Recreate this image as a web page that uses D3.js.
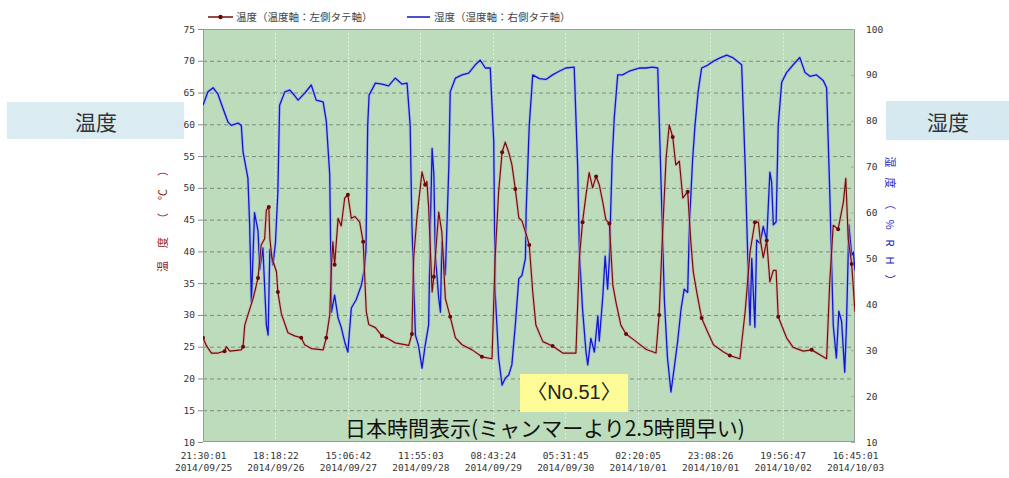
<!DOCTYPE html>
<html>
<head>
<meta charset="utf-8">
<script src="https://cdn.jsdelivr.net/npm/d3@7"></script>
<style>
  body { margin: 0; background: #fff; }
  svg { display: block; }
</style>
</head>
<body>
<svg id="chart" width="1009" height="478"></svg>
<script>
// Logger record: temperature (left axis) and humidity (right axis), Japan time
const startStamp = "2014/09/25 21:30:01";

// X axis tick labels (time / date)
const tickTimes = ["21:30:01", "18:18:22", "15:06:42", "11:55:03", "08:43:24",
                   "05:31:45", "02:20:05", "23:08:26", "19:56:47", "16:45:01"];
const tickDays  = ["2014/09/25", "2014/09/26", "2014/09/27", "2014/09/28", "2014/09/29",
                   "2014/09/30", "2014/10/01", "2014/10/01", "2014/10/02", "2014/10/03"];

// Y axis tick labels
const tempTicks = [10, 15, 20, 25, 30, 35, 40, 45, 50, 55, 60, 65, 70, 75];
const humTicks  = [10, 20, 30, 40, 50, 60, 70, 80, 90, 100];

// Temperature (°C): hours since start, value
const tempHours = [0, 0.95, 2.4, 4.3, 6.2, 6.7, 7.7, 11.0, 11.5, 12.0,
  12.9, 14.4, 15.8, 16.7, 17.7, 18.2, 18.9, 19.2, 19.8, 21.1,
  21.5, 22.5, 24.4, 26.3, 28.2, 29.2, 31.1, 34.5, 35.4, 36.4,
  36.9, 37.3, 37.8, 38.8, 39.7, 40.7, 41.6, 42.6, 43.6, 45.0,
  46.0, 46.9, 47.6, 49.5, 51.4, 53.3, 55.2, 59.1, 60.0, 60.5,
  61.5, 62.9, 63.8, 64.3, 64.8, 65.8, 66.3, 67.7, 68.6, 69.6,
  71.0, 72.5, 74.4, 77.3, 80.1, 83.0, 83.9, 84.9, 85.9, 86.8,
  87.8, 88.7, 89.7, 90.7, 91.6, 93.1, 93.7, 94.7, 95.6, 97.6,
  100.4, 103.3, 107.1, 108.1, 109.0, 110.0, 110.9, 111.9, 112.9, 113.8,
  114.8, 115.7, 116.7, 117.7, 118.6, 120.0, 121.5, 124.4, 127.2, 130.1,
  131.0, 132.0, 133.0, 133.9, 134.9, 135.8, 136.8, 137.8, 139.2, 140.1,
  140.8, 141.8, 143.2, 144.7, 146.6, 149.4, 151.3, 154.2, 155.7, 157.1,
  158.5, 159.5, 160.0, 160.9, 161.9, 162.8, 163.8, 164.6, 165.2, 167.6,
  169.5, 172.4, 174.8, 179.1, 180.0, 181.0, 182.4, 183.9, 184.6, 185.3,
  186.3, 187.25];
const tempValues = [26.4, 25.2, 24.0, 24.0, 24.3, 25.0, 24.3, 24.5, 25.0, 28.4,
  30.0, 32.6, 35.8, 41.0, 42.0, 46.5, 47.0, 42.0, 39.0, 36.8,
  33.6, 30.2, 27.2, 26.7, 26.4, 25.3, 24.7, 24.5, 26.4, 30.0,
  37.9, 41.5, 37.9, 45.2, 44.0, 48.4, 48.9, 45.2, 45.5, 44.6,
  41.5, 30.5, 28.5, 28.0, 26.7, 26.2, 25.6, 25.2, 27.0, 39.0,
  45.7, 52.5, 50.5, 51.0, 47.0, 33.6, 36.0, 46.2, 43.0, 32.6,
  29.7, 26.4, 25.3, 24.5, 23.4, 23.1, 39.0, 49.4, 55.6, 57.2,
  55.6, 53.7, 49.8, 45.3, 44.8, 42.2, 41.0, 33.6, 28.4, 25.8,
  25.1, 24.0, 24.0, 39.0, 44.6, 48.9, 52.4, 50.0, 51.8, 50.5,
  47.8, 45.0, 44.4, 34.7, 32.0, 28.4, 27.0, 25.8, 24.6, 24.0,
  30.0, 43.0, 54.7, 59.9, 58.0, 53.6, 54.2, 48.4, 49.4, 41.5,
  36.8, 33.6, 29.5, 27.6, 25.3, 24.2, 23.6, 23.1, 30.5, 39.9,
  44.6, 44.6, 42.0, 39.0, 41.7, 35.2, 37.0, 37.0, 29.7, 26.4,
  24.9, 24.3, 24.5, 23.1, 35.2, 44.1, 43.5, 47.7, 51.5, 42.0,
  38.0, 30.5];

// Humidity (%RH): hours since start, value
const humHours = [0, 1.4, 2.9, 4.3, 5.7, 7.2, 8.1, 10.1, 11.0, 11.5,
  12.9, 13.4, 13.9, 14.8, 15.8, 16.3, 17.2, 18.2, 18.7, 19.2,
  20.1, 20.8, 21.5, 22.0, 23.5, 24.9, 26.3, 27.3, 29.2, 31.1,
  32.5, 34.5, 35.4, 36.4, 36.9, 37.8, 38.8, 39.7, 40.7, 41.6,
  42.6, 44.0, 45.5, 46.4, 46.8, 47.3, 47.7, 49.5, 51.4, 53.3,
  55.2, 57.1, 58.6, 59.5, 60.0, 61.0, 61.9, 62.9, 63.8, 64.8,
  65.3, 65.8, 66.3, 66.7, 67.7, 68.2, 68.6, 69.6, 70.6, 71.0,
  72.5, 74.4, 76.3, 78.2, 79.6, 81.1, 82.5, 83.5, 83.9, 84.9,
  85.9, 86.8, 87.8, 88.7, 89.7, 90.7, 91.6, 92.6, 92.8, 93.7,
  94.7, 96.6, 98.5, 100.4, 102.3, 104.2, 106.6, 107.6, 108.1, 109.0,
  110.0, 110.5, 111.4, 112.4, 113.4, 113.8, 114.8, 115.5, 116.2, 116.7,
  117.5, 118.1, 119.1, 120.5, 122.4, 125.3, 127.2, 129.1, 130.6, 131.5,
  132.5, 133.4, 134.4, 135.3, 136.3, 137.3, 138.2, 139.2, 139.7, 140.6,
  141.3, 142.2, 143.2, 144.7, 146.6, 148.5, 150.4, 152.3, 154.7, 155.7,
  156.6, 157.1, 157.6, 158.5, 159.0, 160.0, 160.9, 161.9, 162.8, 163.3,
  163.8, 164.6, 165.2, 166.2, 167.6, 169.5, 171.4, 172.9, 174.3, 176.2,
  178.1, 179.1, 180.0, 181.0, 181.9, 182.6, 183.4, 184.3, 184.8, 185.5,
  186.3, 186.8, 187.25];
const humValues = [83.4, 86.3, 87.2, 85.8, 82.8, 79.7, 79.0, 79.5, 79.0, 73.2,
  67.5, 57.3, 40.5, 60.0, 56.0, 47.6, 52.3, 35.5, 33.3, 52.0,
  48.6, 53.3, 64.5, 83.4, 86.3, 86.7, 85.5, 84.5, 86.0, 87.8,
  84.5, 84.1, 80.0, 68.2, 38.3, 42.0, 37.0, 35.0, 31.8, 29.6,
  39.2, 41.0, 44.2, 48.0, 52.0, 79.0, 85.6, 88.2, 88.0, 87.6,
  89.3, 88.0, 88.2, 79.0, 57.3, 33.3, 31.0, 26.1, 31.0, 35.5,
  57.3, 74.0, 68.3, 51.0, 41.4, 38.3, 53.6, 46.4, 70.0, 86.3,
  89.3, 90.0, 90.4, 92.2, 93.2, 91.5, 91.5, 75.5, 42.7, 28.3,
  22.4, 23.9, 24.6, 26.8, 35.5, 45.6, 46.3, 50.0, 60.1, 79.0,
  90.0, 89.2, 89.0, 90.0, 90.8, 91.5, 91.7, 70.1, 51.4, 39.0,
  29.6, 26.8, 32.6, 29.6, 37.5, 32.0, 41.5, 50.5, 43.3, 49.8,
  71.4, 80.5, 90.0, 90.0, 90.8, 91.5, 91.5, 91.7, 91.5, 67.9,
  41.0, 28.3, 20.9, 26.0, 31.8, 39.0, 43.3, 42.6, 57.3, 71.4,
  79.0, 86.3, 91.5, 92.0, 93.0, 93.7, 94.3, 93.7, 92.2, 70.4,
  46.4, 35.5, 50.0, 35.0, 54.0, 53.3, 57.0, 54.0, 68.8, 66.7,
  57.3, 58.0, 79.0, 88.4, 90.5, 92.2, 93.8, 90.5, 89.7, 90.0,
  88.8, 87.2, 64.5, 35.5, 28.3, 38.5, 36.3, 25.2, 35.5, 57.3,
  50.7, 51.4, 47.4];

// ---------------------------------------------------------------
const parseStamp = d3.timeParse("%Y/%m/%d %H:%M:%S");
const start = parseStamp(startStamp);
const tickDates = tickTimes.map((t, i) => parseStamp(tickDays[i] + " " + t));
const atHour = h => new Date(start.getTime() + h * 3600 * 1000);

const tempData = tempHours.map((h, i) => ({ date: atHour(h), v: tempValues[i] }));
const humData  = humHours.map((h, i) => ({ date: atHour(h), v: humValues[i] }));

const plot = { left: 203, right: 855, top: 29, bottom: 442 };

const x  = d3.scaleTime().domain([tickDates[0], tickDates[tickDates.length - 1]])
             .range([plot.left, plot.right]);
const yT = d3.scaleLinear().domain([10, 75]).range([plot.bottom, plot.top]);
const yH = d3.scaleLinear().domain([10, 100]).range([plot.bottom, plot.top]);

const svg = d3.select("#chart");
const monoFont = "'DejaVu Sans Mono', 'Liberation Mono', monospace";
const jpFont = "'Noto Sans CJK JP', 'Noto Sans', sans-serif";

// plot background
svg.append("rect")
  .attr("x", plot.left).attr("y", plot.top)
  .attr("width", plot.right - plot.left).attr("height", plot.bottom - plot.top)
  .attr("fill", "#bddcbb");

// horizontal dashed grid (temperature ticks)
svg.append("g").selectAll("line")
  .data(tempTicks.filter(d => d > 10 && d < 75))
  .join("line")
  .attr("x1", plot.left).attr("x2", plot.right)
  .attr("y1", d => yT(d) + 0.5).attr("y2", d => yT(d) + 0.5)
  .attr("stroke", "#7d8c7d").attr("stroke-width", 1)
  .attr("stroke-dasharray", "4,3");

// vertical dotted grid (time ticks)
svg.append("g").selectAll("line")
  .data(tickDates.slice(1, -1))
  .join("line")
  .attr("x1", d => Math.round(x(d)) + 0.5).attr("x2", d => Math.round(x(d)) + 0.5)
  .attr("y1", plot.top).attr("y2", plot.bottom)
  .attr("stroke", "#eef2ee").attr("stroke-width", 1)
  .attr("stroke-dasharray", "1.5,2.5");

// plot frame
svg.append("rect")
  .attr("x", plot.left + 0.5).attr("y", plot.top + 0.5)
  .attr("width", plot.right - plot.left - 1).attr("height", plot.bottom - plot.top - 1)
  .attr("fill", "none").attr("stroke", "#9a9a9a");

// left axis (temperature)
const gL = svg.append("g").attr("transform", `translate(${plot.left},0)`)
  .call(d3.axisLeft(yT).tickValues(tempTicks).tickSize(5).tickPadding(3));
gL.select(".domain").remove();
gL.selectAll("line").attr("stroke", "#8a8a8a");
gL.selectAll("text").attr("fill", "#333").style("font", `9.5px ${monoFont}`);

// right axis (humidity)
const gR = svg.append("g").attr("transform", `translate(${plot.right},0)`)
  .call(d3.axisRight(yH).tickValues(humTicks).tickSizeInner(-4).tickSizeOuter(0).tickPadding(11));
gR.select(".domain").remove();
gR.selectAll("line").attr("stroke", "#a0b0a0");
gR.selectAll("text").attr("fill", "#333").style("font", `9.5px ${monoFont}`);

// bottom axis: two-line labels
const gB = svg.append("g").attr("transform", `translate(0,${plot.bottom})`)
  .call(d3.axisBottom(x).tickValues(tickDates).tickSize(0).tickFormat(""));
gB.select(".domain").remove();
gB.selectAll(".tick").each(function (d, i) {
  const t = d3.select(this);
  t.append("text").attr("y", 17).attr("text-anchor", "middle")
    .attr("fill", "#333").style("font", `9.5px ${monoFont}`).text(tickTimes[i]);
  t.append("text").attr("y", 29).attr("text-anchor", "middle")
    .attr("fill", "#333").style("font", `9.5px ${monoFont}`).text(tickDays[i]);
});

// clip series to plot
svg.append("clipPath").attr("id", "plotClip").append("rect")
  .attr("x", plot.left).attr("y", plot.top)
  .attr("width", plot.right - plot.left).attr("height", plot.bottom - plot.top);
const series = svg.append("g").attr("clip-path", "url(#plotClip)");

const humLine  = d3.line().x(d => x(d.date)).y(d => yH(d.v));
const tempLine = d3.line().x(d => x(d.date)).y(d => yT(d.v));

// humidity
series.append("path").datum(humData).attr("d", humLine)
  .attr("fill", "none").attr("stroke", "#9fb8ee").attr("stroke-width", 3.2)
  .attr("stroke-opacity", 0.75).attr("stroke-linejoin", "round");
series.append("path").datum(humData).attr("d", humLine)
  .attr("fill", "none").attr("stroke", "#1515c8").attr("stroke-width", 1.3)
  .attr("stroke-linejoin", "round");

// temperature
series.append("path").datum(tempData).attr("d", tempLine)
  .attr("fill", "none").attr("stroke", "#d8a4a0").attr("stroke-width", 3)
  .attr("stroke-opacity", 0.6).attr("stroke-linejoin", "round");
series.append("path").datum(tempData).attr("d", tempLine)
  .attr("fill", "none").attr("stroke", "#760d0d").attr("stroke-width", 1.2)
  .attr("stroke-linejoin", "round");
series.append("g").selectAll("circle")
  .data(tempData.filter((d, i) => i % 4 === 0))
  .join("circle")
  .attr("cx", d => x(d.date)).attr("cy", d => yT(d.v)).attr("r", 2)
  .attr("fill", "#6a0808");

// legend
const legend = svg.append("g");
legend.append("line").attr("x1", 208).attr("x2", 233).attr("y1", 17).attr("y2", 17)
  .attr("stroke", "#760d0d").attr("stroke-width", 1.5);
legend.append("circle").attr("cx", 220.5).attr("cy", 17).attr("r", 2.2).attr("fill", "#6a0808");
legend.append("text").attr("x", 236).attr("y", 21)
  .attr("fill", "#444").style("font", `10.5px ${jpFont}`)
  .text("温度（温度軸：左側タテ軸）");
legend.append("line").attr("x1", 407).attr("x2", 430).attr("y1", 17).attr("y2", 17)
  .attr("stroke", "#1515c8").attr("stroke-width", 1.5);
legend.append("text").attr("x", 434).attr("y", 21)
  .attr("fill", "#444").style("font", `10.5px ${jpFont}`)
  .text("湿度（湿度軸：右側タテ軸）");

// axis titles
svg.append("text")
  .attr("transform", "translate(162,212) rotate(-90)")
  .attr("text-anchor", "middle").attr("dominant-baseline", "central")
  .attr("fill", "#8b1a1a").style("font", `11px ${jpFont}`)
  .attr("letter-spacing", "13px")
  .text("温度（℃）");
svg.append("text")
  .attr("transform", "translate(891,226) rotate(90)")
  .attr("text-anchor", "middle").attr("dominant-baseline", "central")
  .attr("fill", "#2424b8").style("font", `11px ${jpFont}`)
  .attr("letter-spacing", "10px")
  .text("湿度（%RH）");

// side captions
svg.append("rect").attr("x", 7).attr("y", 102).attr("width", 177).attr("height", 37)
  .attr("fill", "#d6e9f0").attr("fill-opacity", 0.9);
svg.append("text").attr("x", 96).attr("y", 121)
  .attr("text-anchor", "middle").attr("dominant-baseline", "central")
  .attr("fill", "#333").style("font", `21px ${jpFont}`).text("温度");
svg.append("rect").attr("x", 886).attr("y", 101).attr("width", 123).attr("height", 39)
  .attr("fill", "#d6e9f0");
svg.append("text").attr("x", 948).attr("y", 121)
  .attr("text-anchor", "middle").attr("dominant-baseline", "central")
  .attr("fill", "#333").style("font", `21px ${jpFont}`).text("湿度");

// sample tag
svg.append("rect").attr("x", 520).attr("y", 374).attr("width", 108).attr("height", 38)
  .attr("fill", "#fdfb95");
svg.append("text").attr("x", 574).attr("y", 392)
  .attr("text-anchor", "middle").attr("dominant-baseline", "central")
  .attr("fill", "#222").style("font", `20px 'Liberation Sans', ${jpFont}`).text("〈No.51〉");

// time-zone note
svg.append("text").attr("x", 545).attr("y", 436)
  .attr("text-anchor", "middle")
  .attr("fill", "#111").style("font", `21px ${jpFont}`)
  .text("日本時間表示(ミャンマーより2.5時間早い)");
</script>
</body>
</html>
